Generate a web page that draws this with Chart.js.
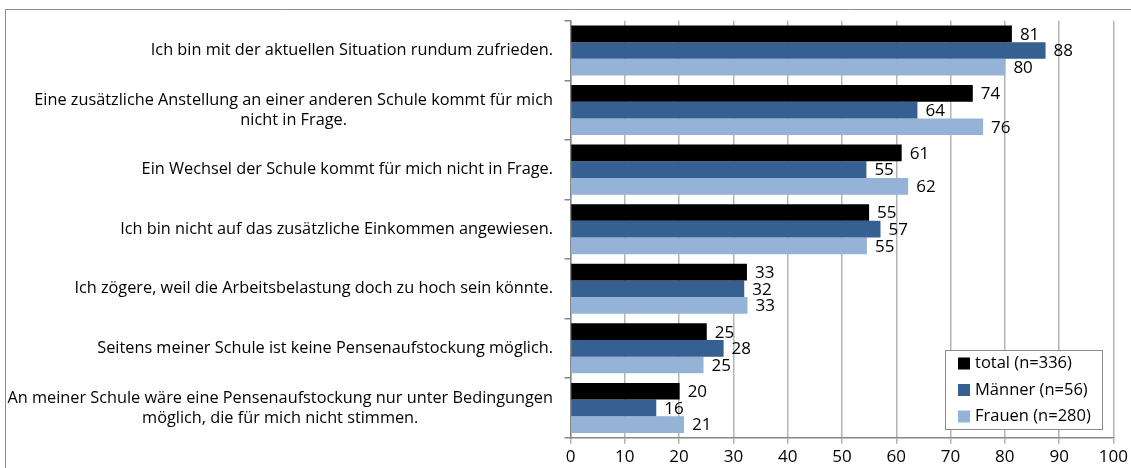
<!DOCTYPE html>
<html>
<head>
<meta charset="utf-8">
<script src="https://cdn.jsdelivr.net/npm/chart.js@4"></script>
<style>
html,body{margin:0;padding:0;background:#fff;}
#c{display:block;}
</style>
</head>
<body>
<canvas id="c" width="1131" height="468"></canvas>
<script>
const categories = [
  ["Ich bin mit der aktuellen Situation rundum zufrieden."],
  ["Eine zusätzliche Anstellung an einer anderen Schule kommt für mich", "nicht in Frage."],
  ["Ein Wechsel der Schule kommt für mich nicht in Frage."],
  ["Ich bin nicht auf das zusätzliche Einkommen angewiesen."],
  ["Ich zögere, weil die Arbeitsbelastung doch zu hoch sein könnte."],
  ["Seitens meiner Schule ist keine Pensenaufstockung möglich."],
  ["An meiner Schule wäre eine Pensenaufstockung nur unter Bedingungen", "möglich, die für mich nicht stimmen."]
];
const seriesNames = ["total (n=336)", "Männer (n=56)", "Frauen (n=280)"];
const totalValues   = [81.3, 74.1, 61.0, 55.0, 32.5, 25.1, 20.1];
const maennerValues = [87.5, 63.9, 54.5, 57.1, 32.0, 28.2, 15.8];
const frauenValues  = [80.1, 76.0, 62.2, 54.6, 32.6, 24.5, 20.9];
const xTicks = [0, 10, 20, 30, 40, 50, 60, 70, 80, 90, 100];

const colors = ["#000000", "#376092", "#95b3d7"];
const FONT = "'Open Sans', 'Noto Sans', sans-serif";

const framePlugin = {
  id: 'frame',
  beforeDraw(chart) {
    const ctx = chart.ctx;
    ctx.save();
    ctx.fillStyle = '#fff';
    ctx.fillRect(0, 0, chart.width, chart.height);
    ctx.strokeStyle = '#8c8c8c';
    ctx.lineWidth = 1;
    ctx.beginPath();
    ctx.moveTo(5.5, chart.height);
    ctx.lineTo(5.5, 9.5);
    ctx.lineTo(chart.width, 9.5);
    ctx.stroke();
    ctx.restore();
  }
};

const catLabelPlugin = {
  id: 'catLabels',
  afterDraw(chart) {
    const ctx = chart.ctx;
    const ys = chart.scales.y;
    ctx.save();
    ctx.font = "16.3px " + FONT;
    ctx.fillStyle = '#000';
    ctx.textBaseline = 'middle';
    ctx.textAlign = 'center';
    const right = 553;
    const lh = 20;
    categories.forEach((lines, i) => {
      const yc = ys.getPixelForValue(i);
      let maxW = 0;
      lines.forEach(l => { maxW = Math.max(maxW, ctx.measureText(l).width); });
      const cx = right - maxW / 2;
      lines.forEach((l, k) => {
        ctx.fillText(l, cx, yc - (lines.length - 1) * lh / 2 + k * lh);
      });
    });
    ctx.restore();
  }
};

const valueLabelPlugin = {
  id: 'valueLabels',
  afterDatasetsDraw(chart) {
    const ctx = chart.ctx;
    ctx.save();
    ctx.font = "17px " + FONT;
    ctx.fillStyle = '#000';
    ctx.textBaseline = 'middle';
    ctx.textAlign = 'left';
    chart.data.datasets.forEach((ds, di) => {
      const meta = chart.getDatasetMeta(di);
      meta.data.forEach((el, i) => {
        ctx.fillText(String(Math.round(ds.data[i])), el.x + 8, el.y + 1);
      });
    });
    ctx.restore();
  }
};

const legendPlugin = {
  id: 'boxLegend',
  afterDraw(chart) {
    const ctx = chart.ctx;
    ctx.save();
    const x0 = 945.5, y0 = 350.5, w = 157, h = 79;
    ctx.fillStyle = '#fff';
    ctx.fillRect(x0, y0, w, h);
    ctx.strokeStyle = '#8c8c8c';
    ctx.lineWidth = 1;
    ctx.strokeRect(x0, y0, w, h);
    ctx.font = "16.5px " + FONT;
    ctx.textBaseline = 'middle';
    ctx.textAlign = 'left';
    chart.data.datasets.forEach((ds, i) => {
      const yc = 363.5 + i * 26.5;
      ctx.fillStyle = ds.backgroundColor;
      ctx.fillRect(958, yc - 6, 12, 12);
      ctx.fillStyle = '#000';
      ctx.fillText(ds.label, 975, yc);
    });
    ctx.restore();
  }
};

new Chart(document.getElementById('c'), {
  type: 'bar',
  data: {
    labels: categories.map(l => l.join(' ')),
    datasets: [
      { label: seriesNames[0], data: totalValues, backgroundColor: colors[0] },
      { label: seriesNames[1], data: maennerValues, backgroundColor: colors[1] },
      { label: seriesNames[2], data: frauenValues, backgroundColor: colors[2] }
    ]
  },
  options: {
    indexAxis: 'y',
    responsive: false,
    animation: false,
    devicePixelRatio: 1,
    categoryPercentage: 0.84,
    barPercentage: 1.0,
    layout: { padding: { top: 20.7, right: 16, left: 0, bottom: 0 } },
    plugins: { legend: { display: false }, tooltip: { enabled: false } },
    scales: {
      y: {
        type: 'category',
        ticks: { display: false },
        afterFit(s) { s.width = 570.5; },
        grid: { drawOnChartArea: false, drawTicks: true, tickLength: 6, color: '#868686', lineWidth: 1.5 },
        border: { display: true, color: '#868686', width: 1.5 }
      },
      x: {
        min: 0, max: 100,
        afterBuildTicks(s) { s.ticks = xTicks.map(v => ({ value: v })); },
        ticks: { font: { size: 17, family: FONT }, color: '#000', padding: 3, maxRotation: 0 },
        afterFit(s) { s.height = 30.3; },
        grid: { color: '#b4b4b4', lineWidth: 1.5, tickLength: 6 },
        border: { display: true, color: '#868686', width: 1.5 }
      }
    }
  },
  plugins: [framePlugin, catLabelPlugin, valueLabelPlugin, legendPlugin]
});
</script>
</body>
</html>
